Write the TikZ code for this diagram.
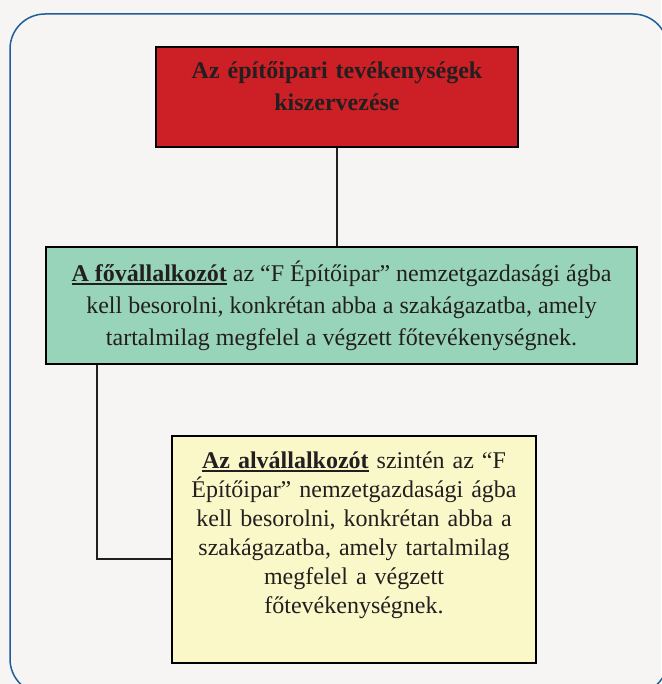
\documentclass[tikz,border=0pt]{standalone}
\usepackage{fontspec}
\setmainfont{Liberation Serif}

\definecolor{hatter}{HTML}{F6F5F3}
\definecolor{keret}{HTML}{1E5E9B}
\definecolor{piros}{HTML}{CC1F26}
\definecolor{zold}{HTML}{98D4BA}
\definecolor{sarga}{HTML}{FAF8C9}
\definecolor{betu}{HTML}{231F20}

% bold, thick underline
\newcommand{\alahuz}[1]{\setbox0\hbox{\textbf{#1}}\rlap{\rule[-3.5pt]{\wd0}{1.6pt}}\box0\relax}

\begin{document}
\begin{tikzpicture}[x=1pt,y=-1pt,
  doboz/.style={draw=black,line width=1.2pt,inner sep=0pt},
  szoveg/.style={text=betu,align=center,inner sep=0pt},
  vonal/.style={draw=betu,line width=1.5pt}]
\fill[hatter](0,0)rectangle(661,684);
\useasboundingbox(0,0)rectangle(661,684);
\draw[keret,line width=1.5pt,rounded corners=35pt](10,14)rectangle(668,694);

% boxes
\node[doboz,fill=piros,minimum width=362pt,minimum height=100pt](cim)at(337,97){};
\node[szoveg,font=\fontsize{24}{32}\selectfont\bfseries,text width=340pt,anchor=base](cimszoveg)at(337,79)
  {Az építőipari tevékenységek\\kiszervezése};
\node[doboz,szoveg,fill=zold,minimum width=591pt,minimum height=117pt,font=\fontsize{24}{32}\selectfont](fo)at(341.5,305.5)
  {\alahuz{A fővállalkozót} az “F Építőipar” nemzetgazdasági ágba\\
   kell besorolni, konkrétan abba a szakágazatba, amely\\
   tartalmilag megfelel a végzett főtevékenységnek.};
\node[doboz,fill=sarga,minimum width=364pt,minimum height=227pt](al)at(354,549.5){};
\node[szoveg,font=\fontsize{24}{29}\selectfont,text width=350pt,anchor=base](alszoveg)at(354,468)
  {\alahuz{Az alvállalkozót} szintén az “F\\
   Építőipar” nemzetgazdasági ágba\\
   kell besorolni, konkrétan abba a\\
   szakágazatba, amely tartalmilag\\
   megfelel a végzett\\
   főtevékenységnek.};

% connectors
\coordinate(tores)at(97,559);
\draw[vonal](cim.south)--(cim.south|-fo.north);
\draw[vonal](fo.south-|tores)|-(al.west|-tores);
\end{tikzpicture}
\end{document}
